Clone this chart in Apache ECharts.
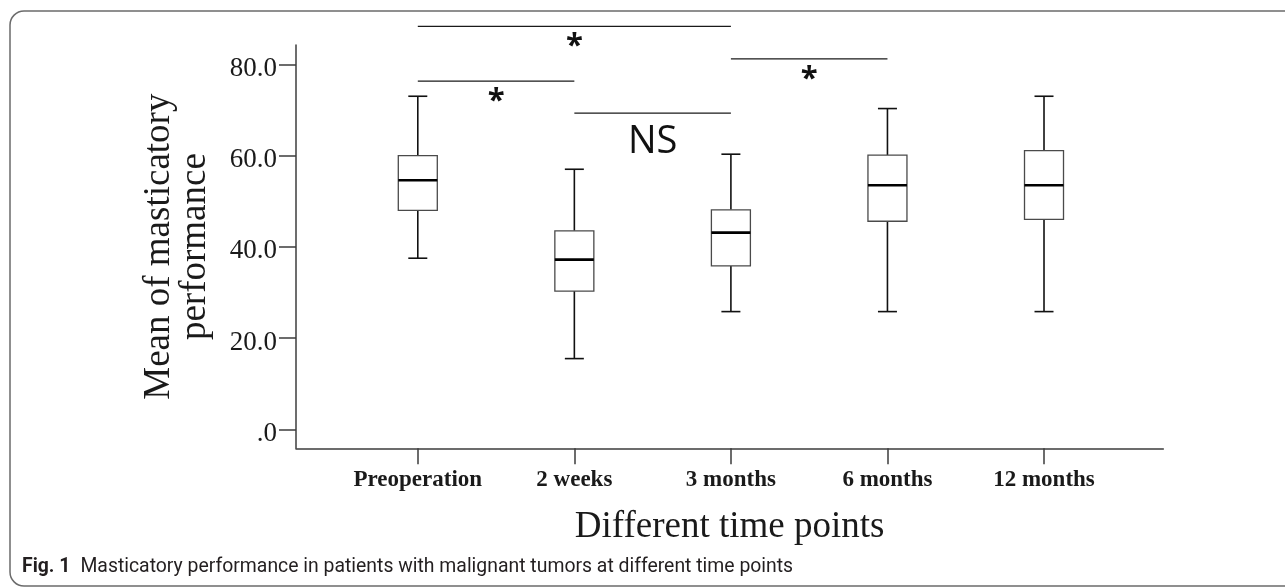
<!DOCTYPE html>
<html>
<head>
<meta charset="utf-8">
<script src="https://cdn.jsdelivr.net/npm/echarts@6/dist/echarts.min.js"></script>
<style>
  html, body { margin: 0; padding: 0; background: #fff; }
  #chart { width: 1285px; height: 588px; }
</style>
</head>
<body>
<div id="chart"></div>
<script>
// time points and box values
var categories = ['Preoperation', '2 weeks', '3 months', '6 months', '12 months'];
var lowWhisker  = [37.5, 15.5, 25.8, 25.8, 25.8];
var q1          = [48.0, 30.3, 35.8, 45.6, 46.0];
var median      = [54.6, 37.2, 43.1, 53.5, 53.5];
var q3          = [60.0, 43.5, 48.1, 60.1, 61.1];
var highWhisker = [73.0, 57.0, 60.3, 70.3, 73.0];

// significance brackets: from / to category index, height, label
var bracketFrom  = [0, 0, 1, 2];
var bracketTo    = [2, 1, 2, 3];
var bracketLevel = [88.3, 76.3, 69.3, 81.2];
var bracketLabel = ['*', '*', 'NS', '*'];

var yTicks = [0, 20, 40, 60, 80];
var yTickLabels = ['.0', '20.0', '40.0', '60.0', '80.0'];
var xTicks = [0, 1, 2, 3, 4];

var SERIF = '"Liberation Serif", "DejaVu Serif", serif';
var SANS = '"Open Sans", "Noto Sans", sans-serif';
var CAPTION = 'Roboto, "Open Sans", sans-serif';
var BOX_W = 39, CAP_W = 19;

var boxData = [];
for (var i = 0; i < categories.length; i++) {
    boxData.push([i, lowWhisker[i], q1[i], median[i], q3[i], highWhisker[i]]);
}
var bracketData = [];
for (var k = 0; k < bracketFrom.length; k++) {
    bracketData.push([bracketFrom[k], bracketTo[k], bracketLevel[k]]);
}

var whisker = { stroke: '#111', lineWidth: 1.6 };

function renderBox(params, api) {
    var x = api.value(0);
    var lo = api.coord([x, api.value(1)]);
    var b1 = api.coord([x, api.value(2)]);
    var md = api.coord([x, api.value(3)]);
    var b3 = api.coord([x, api.value(4)]);
    var hi = api.coord([x, api.value(5)]);
    var cx = lo[0], hw = BOX_W / 2, cw = CAP_W / 2;
    return {
        type: 'group',
        children: [
            { type: 'line', shape: { x1: cx, y1: hi[1], x2: cx, y2: b3[1] }, style: whisker },
            { type: 'line', shape: { x1: cx, y1: b1[1], x2: cx, y2: lo[1] }, style: whisker },
            { type: 'line', shape: { x1: cx - cw, y1: hi[1], x2: cx + cw, y2: hi[1] }, style: whisker },
            { type: 'line', shape: { x1: cx - cw, y1: lo[1], x2: cx + cw, y2: lo[1] }, style: whisker },
            { type: 'rect', shape: { x: cx - hw, y: b3[1], width: BOX_W, height: b1[1] - b3[1] },
              style: { fill: '#fff', stroke: '#4a4a4a', lineWidth: 1.3 } },
            { type: 'line', shape: { x1: cx - hw, y1: md[1], x2: cx + hw, y2: md[1] },
              style: { stroke: '#000', lineWidth: 2.6 } }
        ]
    };
}

function renderBracket(params, api) {
    var a = api.coord([api.value(0), api.value(2)]);
    var b = api.coord([api.value(1), api.value(2)]);
    var label = bracketLabel[params.dataIndex];
    var ns = label !== '*';
    return {
        type: 'group',
        children: [
            { type: 'line', shape: { x1: a[0], y1: a[1], x2: b[0], y2: b[1] },
              style: { stroke: '#1a1a1a', lineWidth: 1.2 } },
            { type: 'text', x: (a[0] + b[0]) / 2, y: a[1] + (ns ? 29 : 20),
              style: { text: label, fontFamily: SANS, fontSize: ns ? 38 : 31,
                       fontWeight: ns ? 'normal' : 'bold',
                       fill: '#111', align: 'center', verticalAlign: 'middle' } }
        ]
    };
}

var myChart = echarts.init(document.getElementById('chart'));
var option = {
    backgroundColor: '#fff',
    animation: false,
    grid: { left: 296, right: 121.7, top: 45, bottom: 139.7, outerBoundsMode: 'none' },
    xAxis: {
        type: 'value', min: -0.778, max: 4.762,
        name: 'Different time points', nameLocation: 'middle', nameGap: 60,
        nameTextStyle: { fontFamily: SERIF, fontSize: 37, color: '#1a1a1a' },
        axisLine: { show: true, onZero: false, lineStyle: { color: '#3c3c3c', width: 1.5 } },
        axisTick: { show: true, length: 16, customValues: xTicks, lineStyle: { color: '#3c3c3c', width: 1.5 } },
        axisLabel: {
            customValues: xTicks, margin: 20,
            formatter: function (v) { return categories[v]; },
            fontFamily: SERIF, fontSize: 23, fontWeight: 'bold', color: '#1a1a1a'
        },
        splitLine: { show: false }
    },
    yAxis: {
        type: 'value', min: -4.16, max: 84.23,
        name: 'Mean of masticatory\nperformance', nameLocation: 'middle', nameGap: 83, nameRotate: 90,
        nameTextStyle: { fontFamily: SERIF, fontSize: 37, lineHeight: 36, color: '#1a1a1a' },
        axisLine: { show: true, onZero: false, lineStyle: { color: '#3c3c3c', width: 1.5 } },
        axisTick: { show: true, length: 17, customValues: yTicks, lineStyle: { color: '#3c3c3c', width: 1.5 } },
        axisLabel: {
            customValues: yTicks, margin: 19, verticalAlign: 'top', lineHeight: 9,
            formatter: function (v) { return yTickLabels[yTicks.indexOf(v)]; },
            fontFamily: SERIF, fontSize: 27, color: '#1a1a1a'
        },
        splitLine: { show: false }
    },
    graphic: [
        { type: 'rect', silent: true, z: -10,
          shape: { x: 10, y: 11, width: 1400, height: 575, r: 14 },
          style: { fill: 'none', stroke: '#6b6b6b', lineWidth: 1.5 } },
        { type: 'text', left: 22, top: 558,
          style: {
              text: '{b|Fig. 1}   {r|Masticatory performance in patients with malignant tumors at different time points}',
              rich: {
                  b: { fontFamily: CAPTION, fontSize: 19.4, fontWeight: 'bold', fill: '#231f20' },
                  r: { fontFamily: CAPTION, fontSize: 19.4, fill: '#231f20' }
              }
          } }
    ],
    series: [
        {
            type: 'custom', name: 'box', renderItem: renderBox,
            encode: { x: 0, y: [1, 2, 3, 4, 5] }, data: boxData
        },
        {
            type: 'custom', name: 'brackets', renderItem: renderBracket, clip: false,
            encode: { x: [0, 1], y: 2 }, data: bracketData
        }
    ]
};
myChart.setOption(option);
</script>
</body>
</html>
